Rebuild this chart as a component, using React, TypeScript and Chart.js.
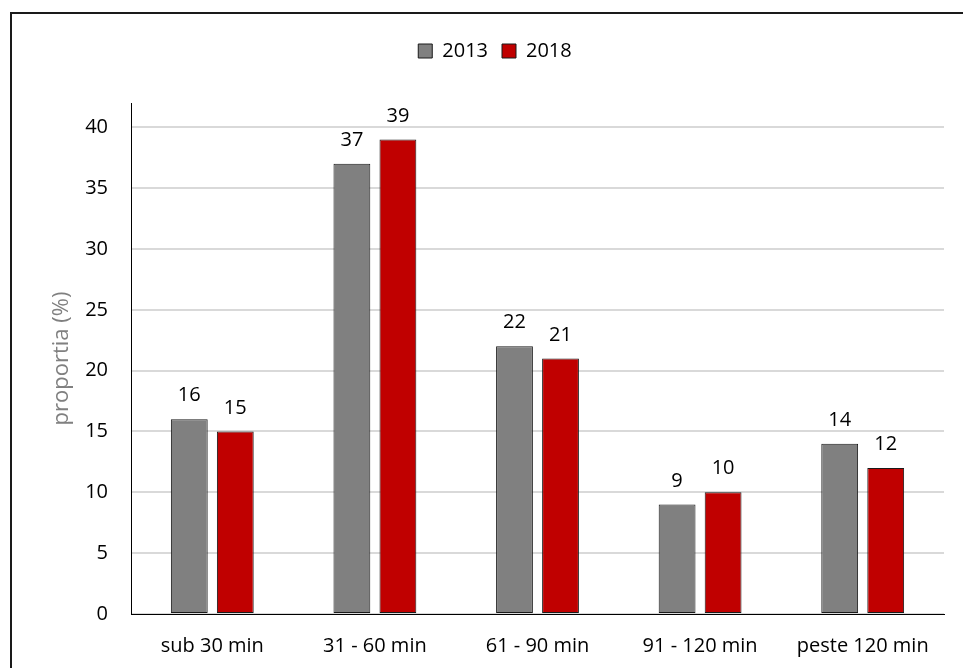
import React, { useEffect, useRef } from "react";
import { Chart, registerables } from "chart.js";

Chart.register(...registerables);

const categories = ["sub 30 min", "31 - 60 min", "61 - 90 min", "91 - 120 min", "peste 120 min"];
const series2013 = [16, 37, 22, 9, 14];
const series2018 = [15, 39, 21, 10, 12];
const seriesLabels = ["2013", "2018"];
const yAxisTitle = "proportia (%)";

const FONT = "'Open Sans', sans-serif";

const framePlugin = {
  id: "frame",
  beforeDraw(chart: any) {
    const ctx = chart.ctx;
    ctx.save();
    ctx.strokeStyle = "#1a1a1a";
    ctx.lineWidth = 2;
    ctx.strokeRect(11, 13, 1000, 1000);
    ctx.restore();
  },
};

const legendPatch = {
  id: "legendPatch",
  beforeUpdate(chart: any) {
    const lg = chart.legend;
    if (lg && !lg.__patched) {
      const orig = lg.fit.bind(lg);
      lg.fit = function () {
        orig();
        this.height += 32;
      };
      lg.__patched = true;
    }
  },
  afterLayout(chart: any) {
    const lg = chart.legend;
    if (lg) {
      lg.left += 18;
      lg.right += 18;
    }
  },
};

const valueLabels = {
  id: "valueLabels",
  afterDatasetsDraw(chart: any) {
    const ctx = chart.ctx;
    ctx.save();
    ctx.font = `20px ${FONT}`;
    ctx.fillStyle = "#000";
    ctx.textAlign = "center";
    ctx.textBaseline = "alphabetic";
    chart.data.datasets.forEach((ds: any, di: number) => {
      const meta = chart.getDatasetMeta(di);
      meta.data.forEach((bar: any, i: number) => {
        ctx.fillText(String(ds.data[i]), bar.x, bar.y - 18);
      });
    });
    ctx.restore();
  },
};

export default function App() {
  const ref = useRef<HTMLCanvasElement>(null);
  useEffect(() => {
    document.body.style.margin = "0";
    document.body.style.overflow = "hidden";
    const chart = new Chart(ref.current!, {
      type: "bar",
      data: {
        labels: categories,
        datasets: [
          {
            label: seriesLabels[0],
            data: series2013,
            backgroundColor: "#808080",
            borderColor: "#1a1a1a",
            borderWidth: 1,
            borderSkipped: false,
            categoryPercentage: 0.566,
            barPercentage: 0.8,
          },
          {
            label: seriesLabels[1],
            data: series2018,
            backgroundColor: "#c00000",
            borderColor: "#1a1a1a",
            borderWidth: 1,
            borderSkipped: false,
            categoryPercentage: 0.566,
            barPercentage: 0.8,
          },
        ],
      },
      options: {
        animation: false,
        responsive: false,
        layout: { padding: { left: 10, right: 19, top: 27, bottom: 0 } },
        plugins: {
          legend: {
            position: "top",
            labels: {
              boxWidth: 14,
              boxHeight: 14,
              padding: 14,
              color: "#000",
              font: { family: FONT, size: 20 },
            },
          },
          tooltip: { enabled: false },
        },
        scales: {
          x: {
            grid: { display: false },
            border: { display: true, color: "#000", width: 1 },
            ticks: { color: "#000", font: { family: FONT, size: 20 }, padding: 12, maxRotation: 0 },
            afterFit(scale: any) {
              scale.height = 54;
            },
          },
          y: {
            min: 0,
            max: 42,
            bounds: "data",
            grid: { color: "#d9d9d9", lineWidth: 2, drawTicks: false },
            border: { display: true, color: "#000", width: 1 },
            ticks: {
              stepSize: 5,
              color: "#000",
              font: { family: FONT, size: 20 },
              padding: 23,
            },
            afterBuildTicks(scale: any) {
              scale.ticks = scale.ticks.filter((t: any) => t.value % 5 === 0);
            },
            title: {
              display: true,
              text: yAxisTitle,
              color: "#808080",
              font: { family: FONT, size: 22 },
              padding: { top: 39, bottom: 0 },
            },
            afterFit(scale: any) {
              scale.width = 121;
            },
          },
        },
      } as any,
      plugins: [framePlugin, legendPatch, valueLabels],
    });
    return () => chart.destroy();
  }, []);
  return <canvas ref={ref} width={963} height={668} style={{ display: "block" }} />;
}
